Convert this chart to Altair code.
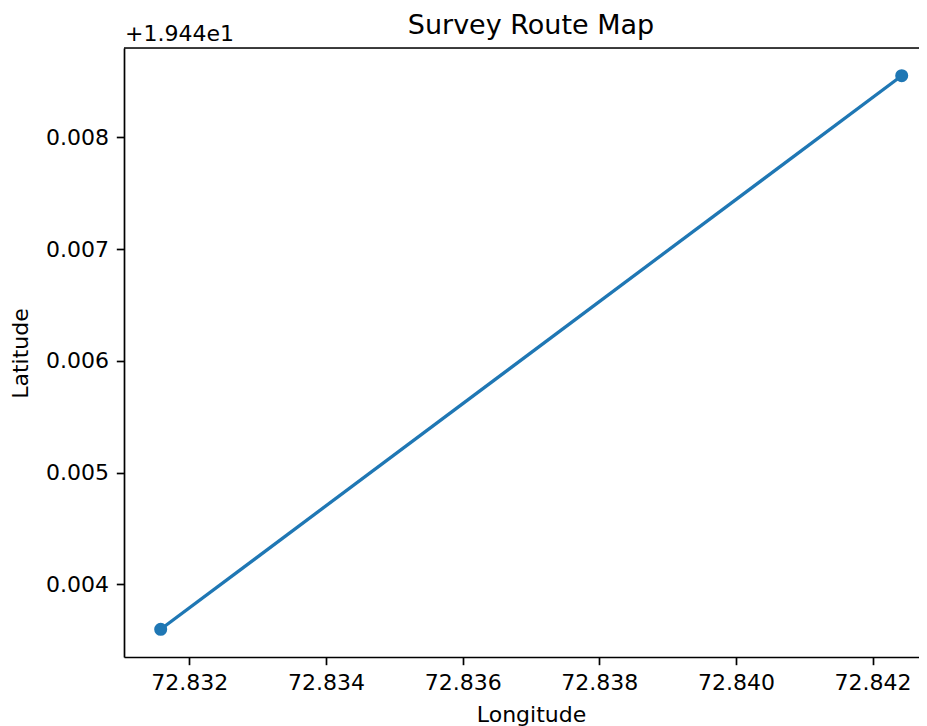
import altair as alt
import pandas as pd

# Data
longitude = [72.831581, 72.842426]
latitude = [19.443597, 19.448553]

x_ticks = [72.832, 72.834, 72.836, 72.838, 72.840, 72.842]
y_ticks = [19.444, 19.445, 19.446, 19.447, 19.448]
x_domain = [72.831044, 72.842679]
y_domain = [19.443349, 19.448801]
y_offset = 19.44
offset_label = ["+1.944e1"]
title_text = ["Survey Route Map"]

W, H = 795, 609
FONT = "DejaVu Sans"
BLUE = "#1f77b4"

df = pd.DataFrame({"Longitude": longitude, "Latitude": latitude})

x_enc = alt.X(
    "Longitude:Q",
    scale=alt.Scale(domain=x_domain, zero=False, nice=False),
    axis=alt.Axis(
        values=x_ticks, format=".3f", grid=False,
        tickSize=7.7, tickWidth=1.7, tickColor="black",
        domainColor="black", domainWidth=1.7,
        labelFont=FONT, labelFontSize=22, labelColor="black",
        labelPadding=8, labelFlush=False, labelOverlap=False,
        title="Longitude", titleFont=FONT, titleFontSize=22,
        titleFontWeight="normal", titleColor="black",
        titleX=407, titleY=64, titleBaseline="alphabetic", titleAlign="center",
    ),
)
y_enc = alt.Y(
    "Latitude:Q",
    scale=alt.Scale(domain=y_domain, zero=False, nice=False),
    axis=alt.Axis(
        values=y_ticks, grid=False,
        labelExpr=f"format(datum.value - {y_offset}, '.3f')",
        tickSize=7.7, tickWidth=1.7, tickColor="black",
        domainColor="black", domainWidth=1.7,
        labelFont=FONT, labelFontSize=22, labelColor="black",
        labelPadding=7.7, labelFlush=False, labelOverlap=False,
        title="Latitude", titleFont=FONT, titleFontSize=22,
        titleFontWeight="normal", titleColor="black",
        titleX=-97, titleY=305, titleBaseline="alphabetic", titleAlign="center",
        titleAngle=270,
    ),
)

base = alt.Chart(df)
line = base.mark_line(color=BLUE, strokeWidth=3.3).encode(x=x_enc, y=y_enc)
points = base.mark_circle(color=BLUE, size=170, opacity=1).encode(x="Longitude:Q", y="Latitude:Q")

top_spine = alt.Chart(pd.DataFrame({"a": [0]})).mark_rule(color="black", strokeWidth=1.7).encode(
    x=alt.value(0), x2=alt.value(W), y=alt.value(0)
)

offset_text = alt.Chart(pd.DataFrame({"t": offset_label})).mark_text(
    font=FONT, fontSize=22, color="black", align="left", baseline="alphabetic"
).encode(text="t:N", x=alt.value(1), y=alt.value(-7.3))

title = alt.Chart(pd.DataFrame({"t": title_text})).mark_text(
    font=FONT, fontSize=27, color="black", align="center", baseline="alphabetic"
).encode(text="t:N", x=alt.value(407), y=alt.value(-14))

chart = alt.layer(line, points, top_spine, offset_text, title).properties(
    width=W, height=H,
    autosize=alt.AutoSizeParams(type="none"),
    padding={"left": 116, "top": 40, "right": 0, "bottom": 69},
).configure_view(strokeWidth=0, strokeOpacity=0).configure(background="white")

chart.save("out.html", embed_options={"renderer": "svg", "actions": False})
